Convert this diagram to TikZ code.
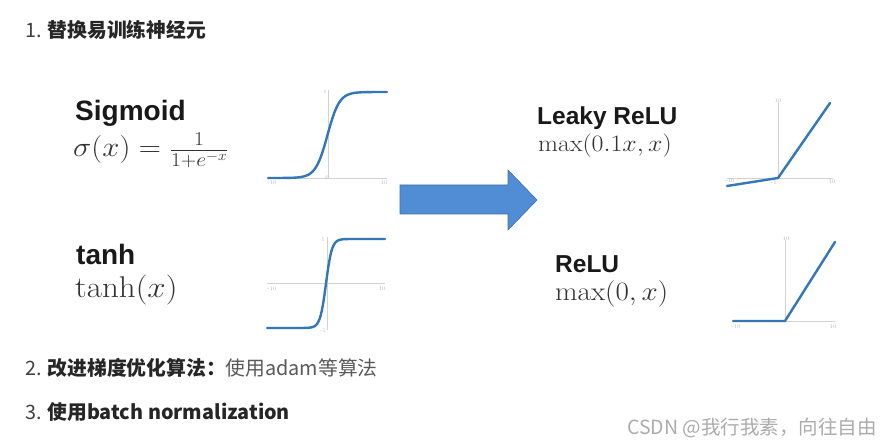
\RequirePackage{fix-cm}
\documentclass[tikz,border=0pt]{standalone}
\usepackage{fontspec}
\newfontfamily\cjk{Noto Sans CJK SC}
\newfontfamily\hv{Liberation Sans}
\usetikzlibrary{positioning}
\definecolor{curveblue}{RGB}{50,118,188}
\definecolor{arrowblue}{RGB}{80,141,212}
\definecolor{arrowedge}{RGB}{62,112,170}
\newcommand{\itemsz}{\fontsize{19.8}{24}\selectfont}
\newcommand{\wmsz}{\fontsize{19.5}{23}\selectfont}
\newcommand{\ttlL}{\fontsize{28}{31}\selectfont}
\newcommand{\ttlR}{\fontsize{24.5}{28}\selectfont}
\newcommand{\eqsz}{\fontsize{28}{32}\selectfont}
\newcommand{\ticksz}{\fontsize{5.5}{6}\selectfont}

\begin{document}
\begin{tikzpicture}[
  x=1pt, y=-1pt,
  item/.style={anchor=base west, inner sep=0pt, font=\cjk\itemsz, text=black!85},
  ttl/.style={anchor=base west, inner sep=0pt, font=\hv\bfseries\ttlL, text=black!90},
  eq/.style={anchor=base west, inner sep=0pt, font=\eqsz, text=black!80, xscale=1.1},
  ax/.style={draw=gray!35, line width=0.6pt},
  crv/.style={draw=curveblue, line width=2.4pt, line join=round, line cap=round},
  tk/.style={inner sep=0pt, font=\ticksz, text=gray!55},
]
  \useasboundingbox[fill=white] (0,0) rectangle (892,446);

  % ---------------- text lines
  \node[item] (it1) at (25,38)
    {\textcolor{black!75}{1.} \textbf{替换易训练神经元}};
  \node[item] (it2) at (25,376)
    {\textcolor{black!75}{2.} \textbf{改进梯度优化算法：}\textcolor{black!65}{使用adam等算法}};
  \node[item] (it3) at (25,419)
    {\textcolor{black!75}{3.} \textbf{使用batch normalization}};
  \node[item, font=\cjk\wmsz, text=gray!65] (wm) at (627,434) {CSDN @我行我素，向往自由};

  % ---------------- sigmoid
  \node[ttl] (sigt) at (75,121) {Sigmoid};
  \node[eq] (sige) at (73,157) {$\sigma(x) = \frac{1}{1+e^{-x}}$};
  \draw[ax] (268,178) -- (387,178);
  \draw[ax] (328,90) -- (328,178);
  \draw[crv] plot[domain=-10:10, samples=80] ({327.5+\x*5.95}, {178-43*(1+tanh(max(-4,min(4,\x/2))))});
  \node[tk] (sig1) at (272,183) {-10};
  \node[tk] (sig2) at (384,183) {10};
  \node[tk] (sig3) at (325,92) {1};
  \node[tk] (sig4) at (327,178) {0};

  % ---------------- tanh
  \node[ttl] (tnht) at (76,265) {tanh};
  \node[eq, font=\fontsize{30}{34}\selectfont] (tnhe) at (75,298) {$\tanh(x)$};
  \draw[ax] (267,283.5) -- (385,283.5);
  \draw[ax] (327,237) -- (327,330);
  \draw[crv] plot[domain=-10:10, samples=100] ({326+\x*5.9}, {283.5-44.5*tanh(max(-4,min(4,\x)))});
  \node[tk] (tnh1) at (272,289) {-10};
  \node[tk] (tnh2) at (382,289) {10};
  \node[tk] (tnh3) at (323,240) {1};
  \node[tk] (tnh4) at (323,331) {-1};

  % ---------------- block arrow
  \draw[fill=arrowblue, draw=arrowedge, line width=0.6pt]
    (400,185) -- (508,185) -- (508,170) -- (537,200) -- (508,230) -- (508,214) -- (400,214) -- cycle;

  % ---------------- leaky relu
  \node[ttl, font=\hv\bfseries\ttlR] (lkyt) at (537,125) {Leaky ReLU};
  \node[eq, font=\fontsize{23.5}{27}\selectfont] (lkye) at (538,152) {$\max(0.1x, x)$};
  \draw[ax] (727,178) -- (833,178);
  \draw[ax] (778,102) -- (778,178);
  \draw[crv] (727,186) -- (778,178) -- (830,103);
  \node[tk] (lky1) at (778,101) {10};
  \node[tk] (lky2) at (730,181) {-10};
  \node[tk] (lky3) at (774,183) {-1};
  \node[tk] (lky4) at (832,182) {10};

  % ---------------- relu
  \node[ttl, font=\hv\bfseries\ttlR] (rlut) at (555,273) {ReLU};
  \node[eq, font=\fontsize{26.5}{30}\selectfont] (rlue) at (555,301) {$\max(0, x)$};
  \draw[ax] (733,321) -- (835,321);
  \draw[ax] (785,240) -- (785,321);
  \draw[crv] (733,321) -- (785,321) -- (835,242);
  \node[tk] (rlu1) at (786,239) {10};
  \node[tk] (rlu2) at (736,327) {-10};
  \node[tk] (rlu3) at (833,327) {10};
\end{tikzpicture}
\end{document}
